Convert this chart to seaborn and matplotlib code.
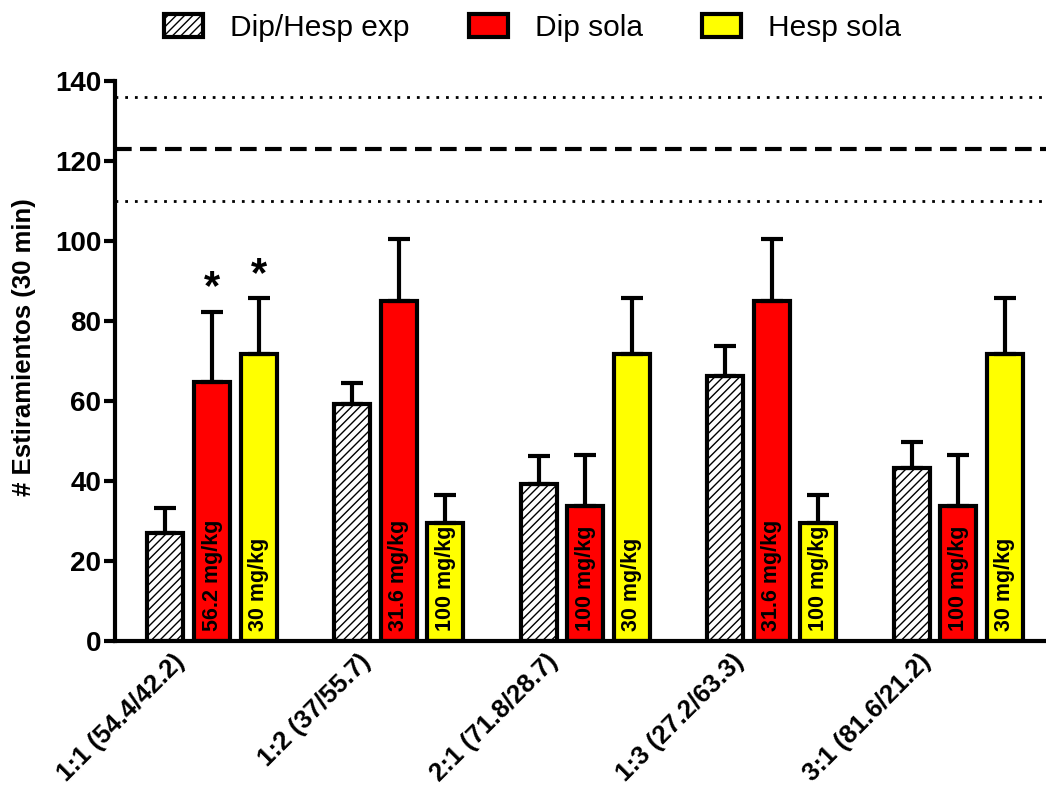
import matplotlib
matplotlib.use("Agg")
import matplotlib.pyplot as plt
import matplotlib.patches as mpatches
import matplotlib.transforms as mtransforms
from matplotlib.container import BarContainer
import seaborn as sns
import pandas as pd
import numpy as np

# ---- data ----
groups = ["1:1 (54.4/42.2)", "1:2 (37/55.7)", "2:1 (71.8/28.7)", "1:3 (27.2/63.3)", "3:1 (81.6/21.2)"]
series = ["Dip/Hesp exp", "Dip sola", "Hesp sola"]
combo_mean = [27.0, 59.3, 39.3, 66.3, 43.3]
combo_sem = [6.2, 5.2, 7.0, 7.3, 6.4]
dip_mean = [64.8, 85.0, 33.8, 85.0, 33.8]
dip_sem = [17.5, 15.5, 12.7, 15.5, 12.7]
hesp_mean = [71.7, 29.4, 71.7, 29.4, 71.7]
hesp_sem = [14.0, 7.0, 14.0, 7.0, 14.0]
dip_dose = ["56.2 mg/kg", "31.6 mg/kg", "100 mg/kg", "31.6 mg/kg", "100 mg/kg"]
hesp_dose = ["30 mg/kg", "100 mg/kg", "30 mg/kg", "100 mg/kg", "30 mg/kg"]
control_mean = 123.0
control_band = [110.0, 136.0]
star_series = [1, 2]  # asterisks on group 0 for Dip sola and Hesp sola
yticks = [0, 20, 40, 60, 80, 100, 120, 140]

means = [combo_mean, dip_mean, hesp_mean]
sems = [combo_sem, dip_sem, hesp_sem]
labels = [None, dip_dose, hesp_dose]
colors = ["white", "#ff0000", "#ffff00"]

rows = []
for s, m in zip(series, means):
    for g, v in zip(groups, m):
        rows.append({"grupo": g, "serie": s, "valor": v})
df = pd.DataFrame(rows)

# ---- figure ----
sns.set_style("ticks")
plt.rcParams["font.family"] = ["Liberation Sans", "DejaVu Sans"]
plt.rcParams["hatch.linewidth"] = 1.0
for k in ["text.color", "axes.labelcolor", "xtick.color", "ytick.color", "axes.edgecolor"]:
    plt.rcParams[k] = "black"

fig = plt.figure(figsize=(10.46, 7.93), dpi=100)
ax = fig.add_axes([0.110, 0.1917, 0.89, 0.7065])

sns.barplot(data=df, x="grupo", y="valor", hue="serie", order=groups,
            hue_order=series, palette=colors, width=0.75, gap=0.23,
            edgecolor="black", linewidth=3, errorbar=None, ax=ax, legend=False,
            saturation=1)

# style bars by series
containers = [c for c in ax.containers if isinstance(c, BarContainer)]
for si, cont in enumerate(containers):
    for bi, bar in enumerate(cont):
        bar.set_facecolor(colors[si])
        bar.set_edgecolor("black")
        bar.set_linewidth(3)
        if si == 0:
            bar.set_hatch("////")
        x = bar.get_x() + bar.get_width() / 2
        h = bar.get_height()
        ax.errorbar([x], [h], yerr=[[0], [sems[si][bi]]], fmt="none",
                    ecolor="black", elinewidth=3, capsize=8, capthick=3,
                    zorder=1)
        if labels[si] is not None:
            ax.text(x, 2.6, labels[si][bi], rotation=90, ha="center",
                    va="bottom", fontsize=15.5, fontweight="bold",
                    color="black", zorder=5)
        if bi == 0 and si in star_series:
            ax.text(x, h + sems[si][bi] + 5.8, "*", ha="center", va="center",
                    fontsize=30, fontweight="bold", color="black")

# control reference lines
ax.axhline(control_mean, color="black", lw=3, ls=(0, (4, 2)), zorder=0)
for yv in control_band:
    ax.axhline(yv, color="black", lw=2, ls=(0, (1, 2.5)), zorder=0)

ax.set_ylim(0, 140)
ax.set_xlim(-0.52, 4.47)
ax.set_yticks(yticks)
ax.set_yticklabels([str(t) for t in yticks], fontsize=20, fontweight="bold")
ax.set_ylabel("# Estiramientos (30 min)", fontsize=18.5, fontweight="bold")
ax.yaxis.set_label_coords(-0.085, 0.525)
ax.set_xlabel("")
ax.tick_params(axis="y", length=8, width=3, pad=2)
ax.tick_params(axis="x", length=0, pad=6)
ax.set_xticks(range(len(groups)))
ax.set_xticklabels(groups, rotation=45, ha="right", rotation_mode="anchor",
                   fontsize=18.5, fontweight="bold")
offset = mtransforms.ScaledTranslation(-0.40, 0.0, fig.dpi_scale_trans)
for lab in ax.get_xticklabels():
    lab.set_transform(lab.get_transform() + offset)
for sp in ["top", "right"]:
    ax.spines[sp].set_visible(False)
for sp in ["left", "bottom"]:
    ax.spines[sp].set_linewidth(3)

# legend
handles = [mpatches.Patch(facecolor=c, edgecolor="black", linewidth=3,
                          hatch=("////" if i == 0 else None))
           for i, c in enumerate(colors)]
fig.legend(handles, series, loc="upper center", bbox_to_anchor=(0.509, 1.016),
           ncol=3, frameon=False, fontsize=21.5, handlelength=1.3,
           handleheight=0.8, columnspacing=2.0, handletextpad=0.9)

fig.savefig("out.png", dpi=100)
